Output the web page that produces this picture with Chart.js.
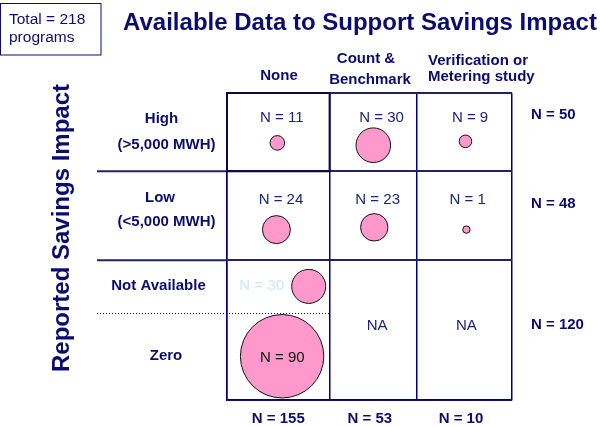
<!DOCTYPE html>
<html>
<head>
<meta charset="utf-8">
<script src="https://cdn.jsdelivr.net/npm/chart.js@4.4.0/dist/chart.umd.min.js"></script>
<style>
  html, body { margin: 0; padding: 0; background: #fff; }
  #chart { display: block; }
</style>
</head>
<body>
<canvas id="chart" width="600" height="427"></canvas>
<script>
// --- Data ---
const totalPrograms = 218;
const colLabels = [['None'], ['Count &', 'Benchmark'], ['Verification or', 'Metering study']];
const rowLabels = [['High', '(>5,000 MWH)'], ['Low', '(<5,000 MWH)'], ['Not Available'], ['Zero']];
const colTotals = [155, 53, 10];
const rowTotals = [50, 48, 120]; // last covers Not Available + Zero

// grid edges in column / row units
const colEdges = [0, 1.08, 2, 3];
const rowEdges = [0, 1.02, 2.18, 2.86, 4];

// bubbles: count, cell position, radius
const bubbleN = [11, 30, 9, 24, 23, 1, 30, 90];
const bubbleX = [0.53, 1.54, 2.51, 0.52, 1.55, 2.52, 0.86, 0.58];
const bubbleY = [0.65, 0.68, 0.63, 1.78, 1.75, 1.78, 2.52, 3.43];
const bubbleR = [7.3, 17.3, 6.3, 14, 13.7, 3.7, 17, 41.7];

// --- Layout / style ---
const NAVY = '#0c0c70';
const CELL_TEXT = '#1a237e';
const FONT = '"Liberation Sans", Arial, sans-serif';
const labelX = [0.576, 1.628, 2.558, 0.568, 1.586, 2.534, 0.365, 0.582];
const labelY = [0.32, 0.32, 0.32, 1.39, 1.39, 1.39, 2.51, 3.45];
const labelColor = ['', '', '', '', '', '', '#cde7fb', '#111'];

const textPlugin = {
  id: 'textPlugin',
  afterDatasetsDraw(chart) {
    const { ctx, chartArea } = chart;
    const xs = chart.scales.x, ys = chart.scales.y;
    ctx.save();
    ctx.textBaseline = 'middle';

    // total box
    ctx.strokeStyle = NAVY;
    ctx.lineWidth = 1;
    ctx.strokeRect(0.5, 3.5, 100.5, 51.5);
    ctx.fillStyle = NAVY;
    ctx.font = '15.5px ' + FONT;
    ctx.textAlign = 'left';
    ctx.fillText('Total = ' + totalPrograms, 9, 20);
    ctx.fillText('programs', 9, 38);

    // title
    ctx.font = 'bold 24px ' + FONT;
    ctx.textAlign = 'center';
    ctx.fillText('Available Data to Support Savings Impact', 360, 23);

    // y title
    ctx.save();
    ctx.translate(62, 228);
    ctx.rotate(-Math.PI / 2);
    ctx.fillText('Reported Savings Impact', 0, 0);
    ctx.restore();

    // column headers
    ctx.font = 'bold 15px ' + FONT;
    ctx.fillText(colLabels[0][0], 279, 76);
    ctx.fillText(colLabels[1][0], 366, 59);
    ctx.fillText(colLabels[1][1], 370, 80);
    ctx.textAlign = 'left';
    ctx.fillText(colLabels[2][0], 428, 61);
    ctx.fillText(colLabels[2][1], 428, 77);

    // row labels
    ctx.textAlign = 'center';
    ctx.fillText(rowLabels[0][0], 161.5, 119);
    ctx.fillText(rowLabels[0][1], 166.5, 145);
    ctx.fillText(rowLabels[1][0], 160, 198);
    ctx.fillText(rowLabels[1][1], 166.5, 222);
    ctx.fillText(rowLabels[2][0], 158.5, 286);
    ctx.fillText(rowLabels[3][0], 166, 356);

    // row totals
    ctx.textAlign = 'left';
    const rowTotY = [115, 204, 325];
    rowTotals.forEach((n, i) => ctx.fillText('N = ' + n, chartArea.right + 19, rowTotY[i]));

    // column totals
    ctx.textAlign = 'center';
    colTotals.forEach((n, i) => {
      const cx = (xs.getPixelForValue(colEdges[i]) + xs.getPixelForValue(colEdges[i + 1])) / 2 - (i ? 3.5 : 0);
      ctx.fillText('N = ' + n, cx, chartArea.bottom + 19);
    });

    // cell labels
    ctx.font = '15px ' + FONT;
    bubbleN.forEach((n, i) => {
      ctx.fillStyle = labelColor[i] || CELL_TEXT;
      ctx.fillText('N = ' + n, xs.getPixelForValue(labelX[i]), ys.getPixelForValue(labelY[i]));
    });
    ctx.fillStyle = CELL_TEXT;
    ctx.fillText('NA', xs.getPixelForValue(1.58), ys.getPixelForValue(3.03));
    ctx.fillText('NA', xs.getPixelForValue(2.52), ys.getPixelForValue(3.03));

    // row lines extending into the label area
    ctx.strokeStyle = '#23235f';
    ctx.lineWidth = 2;
    [rowEdges[1], rowEdges[2]].forEach(v => {
      const y = ys.getPixelForValue(v);
      ctx.beginPath();
      ctx.moveTo(97, y);
      ctx.lineTo(chartArea.left, y);
      ctx.stroke();
    });
    // dotted split between Not Available and Zero
    const yd = Math.round(ys.getPixelForValue(rowEdges[3])) + 0.5;
    ctx.strokeStyle = NAVY;
    ctx.lineWidth = 1;
    ctx.setLineDash([1, 2]);
    ctx.beginPath();
    ctx.moveTo(97, yd);
    ctx.lineTo(xs.getPixelForValue(colEdges[1]), yd);
    ctx.stroke();
    ctx.setLineDash([]);

    // darker frame round the None / High cell
    ctx.strokeStyle = '#0a0a40';
    ctx.lineWidth = 2;
    const x0 = xs.getPixelForValue(colEdges[0]), x1 = xs.getPixelForValue(colEdges[1]);
    const y0 = ys.getPixelForValue(rowEdges[0]), y1 = ys.getPixelForValue(rowEdges[1]);
    ctx.strokeRect(x0, y0, x1 - x0, y1 - y0);

    ctx.restore();
  }
};

new Chart(document.getElementById('chart'), {
  type: 'bubble',
  data: {
    datasets: [{
      data: bubbleN.map((n, i) => ({ x: bubbleX[i], y: bubbleY[i], r: bubbleR[i] })),
      backgroundColor: '#ff99cc',
      borderColor: '#111',
      borderWidth: 1,
      hoverRadius: 0,
      clip: false,
    }],
  },
  options: {
    responsive: false,
    animation: false,
    events: [],
    layout: { autoPadding: false, padding: { left: 227, right: 88, top: 93, bottom: 27 } },
    plugins: { legend: { display: false }, tooltip: { enabled: false } },
    scales: {
      x: {
        type: 'linear', min: 0, max: 3,
        afterBuildTicks: s => { s.ticks = colEdges.map(v => ({ value: v })); },
        ticks: { display: false },
        grid: { color: '#000080', lineWidth: 1.5, drawTicks: false },
        border: { color: '#000080', width: 1.5 },
      },
      y: {
        type: 'linear', min: 0, max: 4, reverse: true,
        afterBuildTicks: s => { s.ticks = [rowEdges[0], rowEdges[1], rowEdges[2], rowEdges[4]].map(v => ({ value: v })); },
        ticks: { display: false },
        grid: { color: '#23235f', lineWidth: 2, drawTicks: false },
        border: { color: '#000080', width: 1.5 },
      },
    },
  },
  plugins: [textPlugin],
});
</script>
</body>
</html>
